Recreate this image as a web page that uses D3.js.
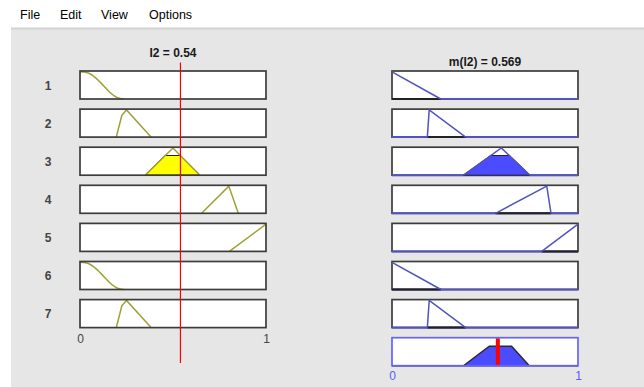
<!DOCTYPE html>
<html>
<head>
<meta charset="utf-8">
<script src="https://cdn.jsdelivr.net/npm/d3@7"></script>
<style>
  html, body { margin: 0; padding: 0; background: #ffffff; }
  svg { display: block; }
  text { font-family: "Liberation Sans", Arial, sans-serif; }
</style>
</head>
<body>
<svg id="chart" width="644" height="387"></svg>
<script>
// ---------------- data ----------------
const menuItems = ["File", "Edit", "View", "Options"];
const ruleLabels = ["1", "2", "3", "4", "5", "6", "7"];
const inputValue = 0.54;
const outputValue = 0.569;
const inputTitle = "I2 = 0.54";
const outputTitle = "m(I2) = 0.569";
const xTicks = [0, 1];

// input membership function outlines, [x, degree]
const inputMF = [
  [[0,1],[0.03,0.98],[0.06,0.9],[0.09,0.74],[0.125,0.5],[0.16,0.25],[0.19,0.09],[0.215,0.02],[0.235,0]],
  [[0.195,0],[0.21,0.4],[0.225,0.8],[0.25,1],[0.382,0]],
  [[0.35,0],[0.5,1],[0.645,0]],
  [[0.654,0],[0.80,1],[0.851,0]],
  [[0.803,0],[1,1]],
  [[0,1],[0.03,0.98],[0.06,0.9],[0.09,0.74],[0.125,0.5],[0.16,0.25],[0.19,0.09],[0.215,0.02],[0.235,0]],
  [[0.195,0],[0.21,0.4],[0.225,0.8],[0.25,1],[0.382,0]]
];
// fired input area (only rule 3)
const inputFill = [null, null,
  [[0.35,0],[0.457,0.724],[0.54,0.724],[0.645,0]],
  null, null, null, null];

// output membership function outlines
const outputMF = [
  [[0,1],[0.262,0]],
  [[0.19,0],[0.2,1],[0.396,0]],
  [[0.384,0],[0.588,1],[0.742,0]],
  [[0.557,0],[0.832,1],[0.855,0]],
  [[0.805,0],[1,1]],
  [[0,1],[0.263,0]],
  [[0.19,0],[0.2,1],[0.396,0]]
];
// implied (clipped) output areas
const outputFill = [
  [[0,0],[0.262,0]],
  [[0.19,0],[0.396,0]],
  [[0.384,0],[0.53,0.724],[0.632,0.724],[0.742,0]],
  [[0.557,0],[0.855,0]],
  [[0.805,0],[1,0]],
  [[0,0],[0.263,0]],
  [[0.19,0],[0.396,0]]
];
// aggregated output
const aggregate = [[0,0],[0.384,0],[0.523,0.715],[0.643,0.715],[0.738,0],[1,0]];

// ---------------- drawing ----------------
const svg = d3.select("#chart");
const W = 644, H = 387;

// menubar + panel
svg.append("rect").attr("x",0).attr("y",0).attr("width",W).attr("height",H).attr("fill","#ffffff");
svg.append("rect").attr("x",11).attr("y",28).attr("width",W-11).attr("height",H-28).attr("fill","#e6e6e6");
svg.append("rect").attr("x",11).attr("y",27.5).attr("width",W-11).attr("height",2).attr("fill","#d2d2d2");

const menuX = [20, 60, 101, 149];
svg.selectAll("text.menu").data(menuItems).enter().append("text")
  .attr("class","menu")
  .attr("x",(d,i)=>menuX[i]).attr("y",19)
  .attr("font-family","'Noto Sans', 'Open Sans', sans-serif")
  .attr("font-size",12.5).attr("fill","#000")
  .text(d=>d);

const xL = d3.scaleLinear().domain([0,1]).range([80,266]);
const xR = d3.scaleLinear().domain([0,1]).range([392,578]);
const rowTop = d3.scaleLinear().domain([0,7]).range([71, 71+7*38.1]);
const rowH = 28;
const yRow = i => d3.scaleLinear().domain([0,1]).range([rowTop(i)+rowH, rowTop(i)+0.8]);

const olive = "#a0a034";
const mfBlue = "#5252c0";
const fillBlue = "#4b4bff";
const aggBlue = "#6363ff";
const boxStroke = "#3c3c3c";

// titles
svg.append("text").attr("x",173).attr("y",56.5).attr("text-anchor","middle")
  .attr("font-size",12).attr("font-weight","bold").attr("fill","#1a1a1a").text(inputTitle);
svg.append("text").attr("x",485).attr("y",65.5).attr("text-anchor","middle")
  .attr("font-size",12).attr("font-weight","bold").attr("fill","#1a1a1a").text(outputTitle);

ruleLabels.forEach((lab, i) => {
  const top = rowTop(i), y = yRow(i);
  // row label
  svg.append("text").attr("x",48).attr("y",top+rowH/2+4.5).attr("text-anchor","middle")
    .attr("font-size",12).attr("font-weight","bold").attr("fill","#444").text(lab);

  // ---- input axis ----
  const gL = svg.append("g");
  gL.append("rect").attr("x",xL(0)).attr("y",top).attr("width",xL(1)-xL(0)).attr("height",rowH).attr("fill","#fff");
  const lineL = d3.line().x(d=>xL(d[0])).y(d=>y(d[1])).curve(i===0||i===5 ? d3.curveMonotoneX : d3.curveLinear);
  if (inputFill[i]) {
    gL.append("path").attr("d", d3.line().x(d=>xL(d[0])).y(d=>y(d[1]))(inputFill[i]) + "Z")
      .attr("fill","#ffff00").attr("stroke","#222").attr("stroke-width",1);
  }
  gL.append("path").attr("d", lineL(inputMF[i])).attr("fill","none").attr("stroke",olive).attr("stroke-width",1.5);
  gL.append("rect").attr("x",xL(0)).attr("y",top).attr("width",xL(1)-xL(0)).attr("height",rowH)
    .attr("fill","none").attr("stroke",boxStroke).attr("stroke-width",1.7);

  // ---- output axis ----
  const gR = svg.append("g");
  gR.append("rect").attr("x",xR(0)).attr("y",top).attr("width",xR(1)-xR(0)).attr("height",rowH)
    .attr("fill","#fff").attr("stroke",boxStroke).attr("stroke-width",1.7);
  const lineR = d3.line().x(d=>xR(d[0])).y(d=>y(d[1]));
  // MF baseline across the domain
  gR.append("path").attr("d", lineR([[0,0],[1,0]])).attr("stroke",mfBlue).attr("stroke-width",2).attr("fill","none");
  const f = outputFill[i];
  if (f.length > 2) {
    gR.append("path").attr("d", lineR(f)+"Z").attr("fill",fillBlue).attr("stroke","#222").attr("stroke-width",1);
  } else {
    gR.append("path").attr("d", lineR(f)).attr("fill","none").attr("stroke","#222").attr("stroke-width",2);
  }
  gR.append("path").attr("d", lineR(outputMF[i])).attr("fill","none").attr("stroke",mfBlue).attr("stroke-width",1.5);
});

// aggregate axis
const aggIdx = 7;
const aggTop = rowTop(aggIdx), yAgg = yRow(aggIdx);
svg.append("rect").attr("x",xR(0)).attr("y",aggTop).attr("width",xR(1)-xR(0)).attr("height",rowH).attr("fill","#fff");
svg.append("path").attr("d", d3.line().x(d=>xR(d[0])).y(d=>yAgg(d[1]))(aggregate)+"Z")
  .attr("fill",fillBlue).attr("stroke","#2a2a2a").attr("stroke-width",1.4);
svg.append("line").attr("x1",xR(outputValue)).attr("x2",xR(outputValue))
  .attr("y1",aggTop+0.5).attr("y2",aggTop+rowH).attr("stroke","#ff0000").attr("stroke-width",4);
svg.append("rect").attr("x",xR(0)).attr("y",aggTop).attr("width",xR(1)-xR(0)).attr("height",rowH)
  .attr("fill","none").attr("stroke",aggBlue).attr("stroke-width",1.7);

// input index line
svg.append("line").attr("x1",xL(inputValue)).attr("x2",xL(inputValue))
  .attr("y1",62.5).attr("y2",363).attr("stroke","#ff0000").attr("stroke-width",1.2);

// tick labels via axes
const axL = svg.append("g").attr("transform",`translate(0,${rowTop(6)+rowH})`)
  .call(d3.axisBottom(xL).tickValues(xTicks).tickSize(0).tickPadding(7).tickFormat(d3.format("d")));
axL.select(".domain").remove();
axL.selectAll("text").attr("font-size",12).attr("font-family","'Liberation Sans', Arial, sans-serif").attr("fill","#444");

const axR = svg.append("g").attr("transform",`translate(0,${aggTop+rowH})`)
  .call(d3.axisBottom(xR).tickValues(xTicks).tickSize(0).tickPadding(6).tickFormat(d3.format("d")));
axR.select(".domain").remove();
axR.selectAll("text").attr("font-size",12).attr("font-family","'Liberation Sans', Arial, sans-serif").attr("fill","#5a5aff");
</script>
</body>
</html>
